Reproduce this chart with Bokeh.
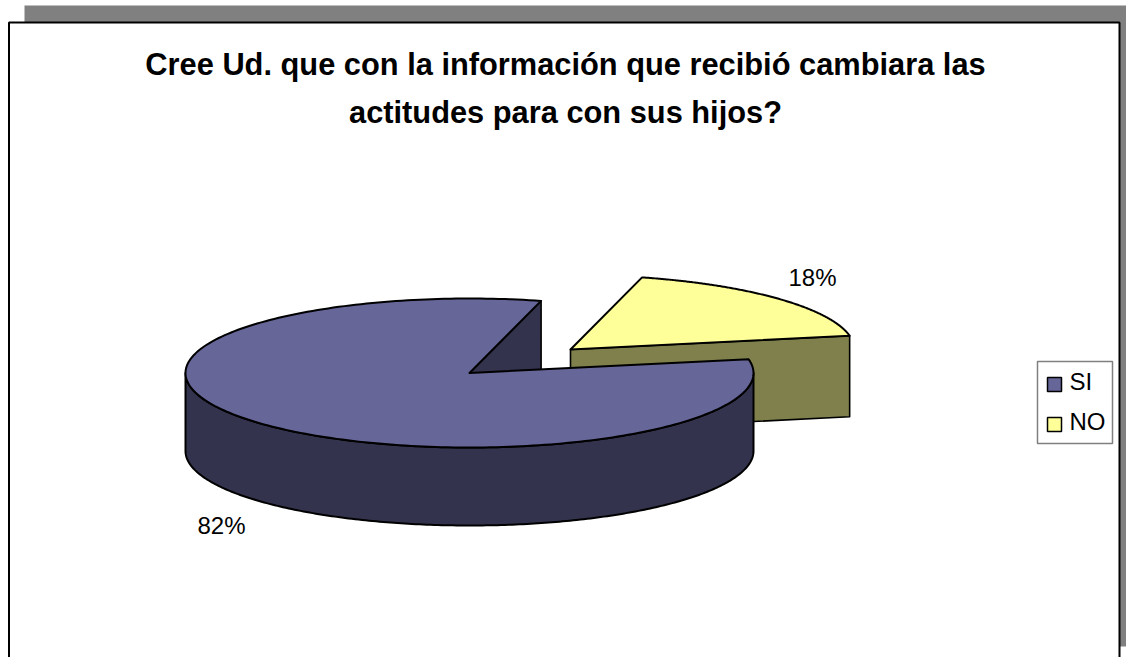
import numpy as np
from bokeh.core.properties import value
from bokeh.embed import file_html
from bokeh.models import ColumnDataSource, Range1d
from bokeh.plotting import figure
from bokeh.resources import INLINE

# Chart content
title_lines = ["Cree Ud. que con la información que recibió cambiara las",
               "actitudes para con sus hijos?"]
categories = ["SI", "NO"]
shares = [82, 18]
top_colors = ["#666699", "#FFFF99"]
wall_colors = ["#33334D", "#80804D"]

# Projection of the tilted pie, in page pixels
SI_CENTER = (469, 372.5)
NO_CENTER = (570, 349)
RX, RY = 284, 74.5
SI_DEPTH, NO_DEPTH = 78, 81
NO_START_DEG = 14.6
FONT = value("Liberation Sans")
W, H = 1126, 657

p = figure(width=W, height=H, output_backend="svg", toolbar_location=None,
           x_range=Range1d(0, W), y_range=Range1d(H, 0), min_border=0,
           outline_line_color=None, background_fill_color="white", border_fill_color="white")
p.axis.visible = False
p.grid.visible = False


def rim(center, a0, a1, drop=0.0):
    """Points of the elliptical rim between two clock angles, optionally dropped by the pie depth."""
    a = np.radians(np.linspace(a0, a1, 240))
    return center[0] + RX * np.sin(a), center[1] - RY * np.cos(a) + drop


def shape(xs, ys, fill, width=2.0, color="black"):
    p.patch(list(xs), list(ys), fill_color=fill, line_color=color, line_width=width, line_join="round")


# Angles follow from the shares: NO takes its arc first, SI covers the rest of the circle
no_end = NO_START_DEG + shares[1] / sum(shares) * 360
si_end = NO_START_DEG + 360

# Window frame: grey drop shadow, then the black page border
p.quad(left=[24], right=[1126], top=[5], bottom=[646], fill_color="#808080", line_color=None)
p.quad(left=[8.5], right=[1119], top=[22], bottom=[H + 10], fill_color="white",
       line_color="black", line_width=2)

# NO slice, pulled out of the pie: its cut face and then its top
ex, ey = rim(NO_CENTER, no_end, no_end)
shape([NO_CENTER[0], ex[0], ex[0], NO_CENTER[0]],
      [NO_CENTER[1], ey[0], ey[0] + NO_DEPTH, NO_CENTER[1] + NO_DEPTH], wall_colors[1], 1.6)
nx, ny = rim(NO_CENTER, NO_START_DEG, no_end)
shape(np.r_[NO_CENTER[0], nx], np.r_[NO_CENTER[1], ny], top_colors[1])

# SI slice: inner cut face, outer wall and then its top
sx, sy = rim(SI_CENTER, NO_START_DEG, NO_START_DEG)
shape([SI_CENTER[0], sx[0], sx[0], SI_CENTER[0]],
      [SI_CENTER[1], sy[0], sy[0] + SI_DEPTH, SI_CENTER[1] + SI_DEPTH], wall_colors[0], 1.6)
wx, wy = rim(SI_CENTER, 90, 270)
bx, by = rim(SI_CENTER, 270, 90, SI_DEPTH)
shape(np.r_[wx, bx], np.r_[wy, by], wall_colors[0])
tx, ty = rim(SI_CENTER, no_end, si_end)
shape(np.r_[SI_CENTER[0], tx], np.r_[SI_CENTER[1], ty], top_colors[0])

# Title
p.text(x=[565, 565], y=[64, 112], text=title_lines, text_font=FONT, text_font_size="30.8px",
       text_font_style="bold", text_align="center", text_baseline="middle", text_color="black")

# Percentage labels
p.text(x=[221, 812], y=[525, 277], text=[f"{v}%" for v in shares], text_font=FONT,
       text_font_size="24px", text_align="center", text_baseline="middle", text_color="black")

# Legend
p.quad(left=[1037], right=[1112], top=[361], bottom=[443], fill_color="white",
       line_color="#808080", line_width=1.5)
legend = ColumnDataSource(dict(left=[1047, 1047], right=[1061, 1061], top=[377, 417], bottom=[391, 431],
                               color=top_colors))
p.quad(left="left", right="right", top="top", bottom="bottom", fill_color="color", source=legend,
       line_color="black", line_width=1.5)
p.text(x=[1069, 1069], y=[381, 421], text=categories, text_font=FONT, text_font_size="24px",
       text_align="left", text_baseline="middle", text_color="black")

open("out.html", "w").write(file_html(p, INLINE))
